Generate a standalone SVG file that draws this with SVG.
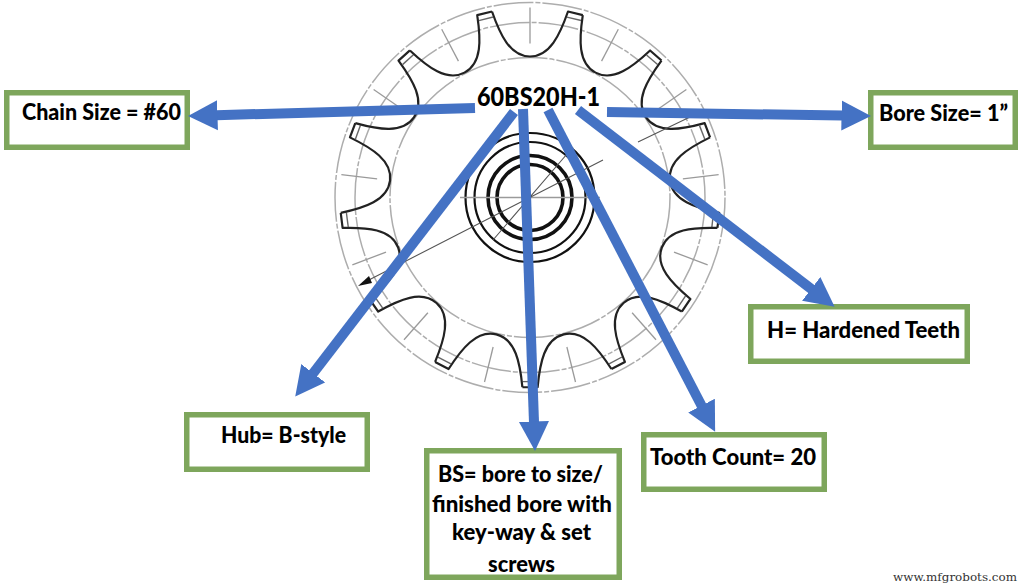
<svg xmlns="http://www.w3.org/2000/svg" width="1023" height="587" viewBox="0 0 1023 587">
<style>
.guide{fill:none;stroke:#adadad;stroke-width:1.5;stroke-dasharray:40 2 5 2}
.mark{fill:none;stroke:#9a9a9a;stroke-width:1.3}
.prof{fill:none;stroke:#222;stroke-width:2.2;stroke-linejoin:round}
.tip{fill:none;stroke:#666;stroke-width:1.4}
.hub{fill:none;stroke:#111}
.thin{fill:none;stroke:#555;stroke-width:1.1}
.box{fill:#fff;stroke:#7ea65c;stroke-width:5.5}
.arrow{fill:none;stroke:#4472c4;stroke-width:10}
.lbl{font-family:"Lato","Open Sans","Liberation Sans",sans-serif;font-weight:900;font-size:23px;fill:#000}
</style>
<defs>
<marker id="head" markerUnits="userSpaceOnUse" markerWidth="32" markerHeight="32" refX="1" refY="15" orient="auto" viewBox="0 0 32 30">
<path d="M0 0L29.5 15L0 30Z" fill="#4472c4"/>
</marker>
<g id="sector">
<path class="prof" d="M-38 -186C-30 -163 -20 -141 0 -141C20 -141 30 -163 38 -186L52.8 -182.4"/>
<path class="tip" d="M36.9 -180.4L51.2 -177"/>
<path class="mark" d="M0 -190V-154"/>
</g>
</defs>
<rect width="1023" height="587" fill="#fff"/>
<g id="sprocket">
<g transform="translate(530 197.5)">
<circle class="guide" r="195"/>
<circle class="guide" r="175"/>
<circle class="guide" r="140"/>
<use href="#sector"/>
<use href="#sector" transform="rotate(27.69)"/>
<use href="#sector" transform="rotate(55.38)"/>
<use href="#sector" transform="rotate(83.08)"/>
<use href="#sector" transform="rotate(110.77)"/>
<use href="#sector" transform="rotate(138.46)"/>
<use href="#sector" transform="rotate(166.15)"/>
<use href="#sector" transform="rotate(193.85)"/>
<use href="#sector" transform="rotate(221.54)"/>
<use href="#sector" transform="rotate(249.23)"/>
<use href="#sector" transform="rotate(276.92)"/>
<use href="#sector" transform="rotate(304.62)"/>
<use href="#sector" transform="rotate(332.31)"/>
<circle class="hub" r="64.5" stroke-width="2.2"/>
<circle class="hub" r="55.5" stroke-width="2.2"/>
<circle class="hub" r="42" stroke-width="3.6"/>
<circle class="hub" r="33" stroke-width="3.6"/>
<path class="mark" d="M-70 0H70"/>
</g>
<path class="thin" d="M363 283L603 160M493 240L573 147M638 142L690 117"/>
<path d="M358 286L369 276L372 283Z" fill="#111"/>
</g>
<g id="node-chain">
<rect class="box" x="6.75" y="92.75" width="180.5" height="54.5"/>
<text class="lbl" x="22" y="120" textLength="159" lengthAdjust="spacingAndGlyphs">Chain Size = #60</text>
</g>
<g id="node-bore">
<rect class="box" x="870.75" y="92.75" width="144.5" height="54.5"/>
<text class="lbl" x="879" y="121" textLength="129" lengthAdjust="spacingAndGlyphs">Bore Size= 1”</text>
</g>
<g id="node-hardened">
<rect class="box" x="750.75" y="306.75" width="216.5" height="54.5"/>
<text class="lbl" x="767" y="338" textLength="193" lengthAdjust="spacingAndGlyphs">H= Hardened Teeth</text>
</g>
<g id="node-hub">
<rect class="box" x="186.75" y="414.75" width="180.5" height="54.5"/>
<text class="lbl" x="221" y="443" textLength="125" lengthAdjust="spacingAndGlyphs">Hub= B-style</text>
</g>
<g id="node-bs">
<rect class="box" x="426.75" y="450.75" width="192.5" height="126.5"/>
<text class="lbl" x="438" y="482" textLength="165" lengthAdjust="spacingAndGlyphs">BS= bore to size/</text>
<text class="lbl" x="432" y="512" textLength="180" lengthAdjust="spacingAndGlyphs">finished bore with</text>
<text class="lbl" x="452" y="540" textLength="139" lengthAdjust="spacingAndGlyphs">key-way &amp; set</text>
<text class="lbl" x="488" y="572" textLength="67" lengthAdjust="spacingAndGlyphs">screws</text>
</g>
<g id="node-tooth">
<rect class="box" x="643.75" y="434.75" width="180.5" height="54.5"/>
<text class="lbl" x="650" y="465" textLength="166" lengthAdjust="spacingAndGlyphs">Tooth Count= 20</text>
</g>
<g id="connectors">
<path class="arrow" marker-end="url(#head)" d="M475 108L216.5 115.2"/>
<path class="arrow" marker-end="url(#head)" d="M607 112L842.5 115.6"/>
<path class="arrow" marker-end="url(#head)" d="M514 112L312.6 374"/>
<path class="arrow" marker-end="url(#head)" d="M523 109L534 422.5"/>
<path class="arrow" marker-end="url(#head)" d="M548 110L702 406.5"/>
<path class="arrow" marker-end="url(#head)" d="M578 110L812 289.5"/>
</g>
<g id="node-code">
<text class="lbl" x="477" y="106" style="font-size:27px" textLength="123" lengthAdjust="spacingAndGlyphs">60BS20H-1</text>
</g>
<text x="893" y="581" font-family="'DejaVu Serif',serif" font-size="11" fill="#333" textLength="124" lengthAdjust="spacingAndGlyphs">www.mfgrobots.com</text>
</svg>
